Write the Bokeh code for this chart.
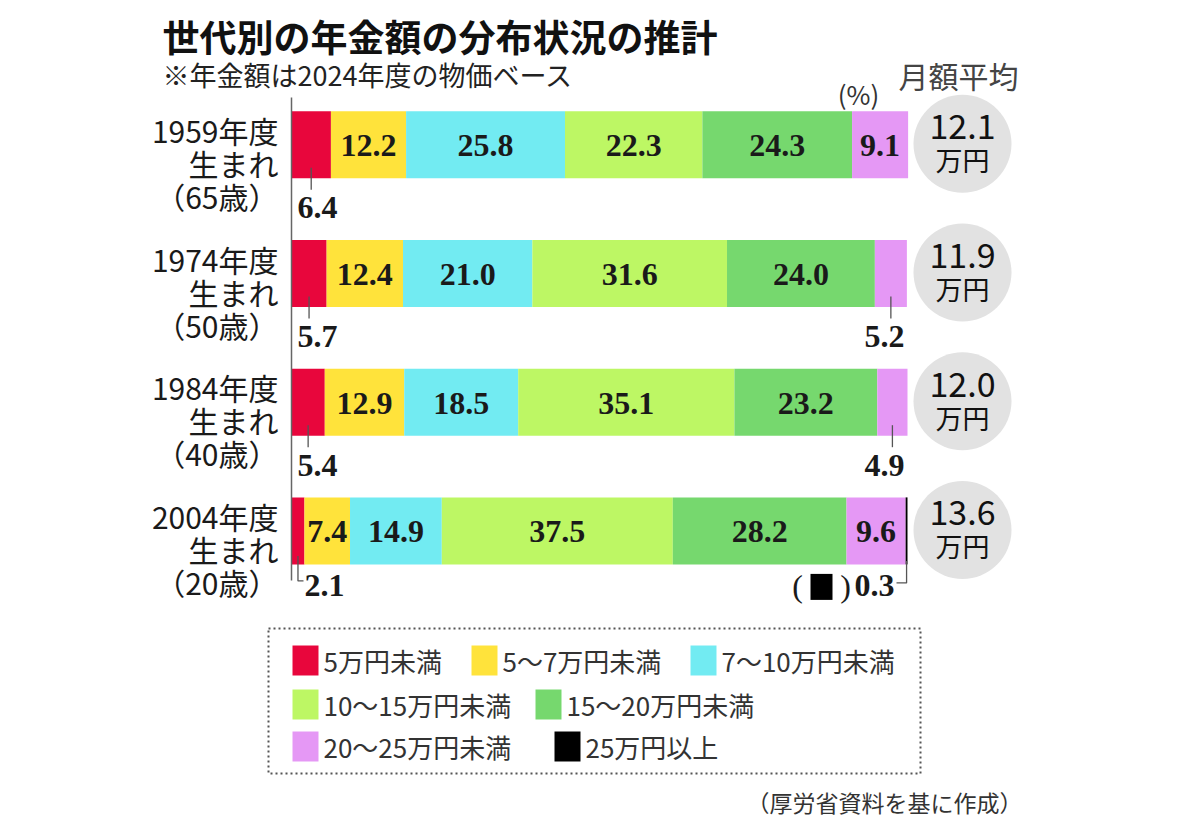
from bokeh.plotting import figure
from bokeh.models import Range1d
from bokeh.embed import file_html
from bokeh.resources import INLINE
from bokeh.core.properties import value

# ---------------- data ----------------
title = "世代別の年金額の分布状況の推計"
subtitle = "※年金額は2024年度の物価ベース"
avg_header = "月額平均"
unit_label = "(%)"
source = "（厚労省資料を基に作成）"

row_year = ["1959年度", "1974年度", "1984年度", "2004年度"]
row_born = ["生まれ", "生まれ", "生まれ", "生まれ"]
row_age = ["（65歳）", "（50歳）", "（40歳）", "（20歳）"]

categories = ["5万円未満", "5～7万円未満", "7～10万円未満", "10～15万円未満",
              "15～20万円未満", "20～25万円未満", "25万円以上"]
colors = ["#E8063C", "#FFE33B", "#72EBF2", "#BDF764", "#76D86E", "#E598F5", "#000000"]

under5 = [6.4, 5.7, 5.4, 2.1]
r5_7 = [12.2, 12.4, 12.9, 7.4]
r7_10 = [25.8, 21.0, 18.5, 14.9]
r10_15 = [22.3, 31.6, 35.1, 37.5]
r15_20 = [24.3, 24.0, 23.2, 28.2]
r20_25 = [9.1, 5.2, 4.9, 9.6]
over25 = [0.0, 0.0, 0.0, 0.3]
series = [under5, r5_7, r7_10, r10_15, r15_20, r20_25, over25]

avg_monthly = [12.1, 11.9, 12.0, 13.6]  # 万円

# ---------------- layout (pixels) ----------------
W, H = 1184, 824
PX0, PXS = 291.0, 6.16      # page x of 0 %, pixels per %
ROW0, ROWS = 144.3, 128.7   # page y of first row, pixels per row
OFF = 0                     # page offset of the canvas


def X(px):
    return (px - PX0) / PXS


def Y(py):
    return (py - ROW0) / ROWS


def DY(d):
    return d / ROWS


rows = list(range(len(row_year)))

p = figure(width=W, height=H, output_backend="svg", toolbar_location=None,
           x_range=Range1d(X(OFF), X(OFF + W)), y_range=Range1d(Y(OFF + H), Y(OFF)),
           x_axis_type=None, y_axis_type=None, min_border=0)
p.outline_line_color = None
p.xgrid.visible = False
p.ygrid.visible = False
p.background_fill_color = "white"
p.border_fill_color = "white"

SANS = value("Noto Sans CJK JP")
SERIF = value("Liberation Serif")
BH = DY(67)
NUMSIZE = "32px"
TXT = "#1a1a1a"

# stacked bars
lefts = [0.0] * len(rows)
seg = []  # (row, k, left, right, v)
for k, s in enumerate(series):
    rs = [l + v for l, v in zip(lefts, s)]
    yy = [r for r, v in zip(rows, s) if v > 0]
    ll = [l for l, v in zip(lefts, s) if v > 0]
    rr = [r for r, v in zip(rs, s) if v > 0]
    p.hbar(y=yy, left=ll, right=rr, height=BH, fill_color=colors[k], line_color=None)
    for r, l, rgt, v in zip(rows, lefts, rs, s):
        if v > 0:
            seg.append((r, k, l, rgt, v))
    lefts = rs

# axis line
p.segment(x0=[0], y0=[Y(97)], x1=[0], y1=[Y(580)], line_color="#666666", line_width=1.5)

# value labels inside bars
in_x, in_y, in_t = [], [], []
for (r, k, l, rgt, v) in seg:
    if v >= 7:
        in_x.append((l + rgt) / 2)
        in_y.append(r + DY(1))
        in_t.append(f"{v:.1f}")
p.text(x=in_x, y=in_y, text=in_t, text_font=SERIF, text_font_size=NUMSIZE,
       text_font_style="bold", text_align="center", text_baseline="middle", text_color=TXT)

# value labels outside bars with leader lines
LC = "#555555"
for (r, k, l, rgt, v) in seg:
    if v >= 7:
        continue
    c = (l + rgt) / 2
    compact = over25[r] > 0
    if not compact:
        p.segment(x0=[c], y0=[r + DY(23)], x1=[c], y1=[r + DY(45)], line_color=LC, line_width=1.3)
        if k == 0:
            p.text(x=[X(297)], y=[r + DY(63)], text=[f"{v:.1f}"], text_font=SERIF,
                   text_font_size=NUMSIZE, text_font_style="bold", text_align="left",
                   text_baseline="middle", text_color=TXT)
        else:
            p.text(x=[X(904)], y=[r + DY(63)], text=[f"{v:.1f}"], text_font=SERIF,
                   text_font_size=NUMSIZE, text_font_style="bold", text_align="right",
                   text_baseline="middle", text_color=TXT)
    else:
        if k == 0:
            p.multi_line(xs=[[c, c, X(303)]], ys=[[r + DY(25), r + DY(50), r + DY(50)]],
                         line_color=LC, line_width=1.3)
            p.text(x=[X(304)], y=[r + DY(55)], text=[f"{v:.1f}"], text_font=SERIF,
                   text_font_size=NUMSIZE, text_font_style="bold", text_align="left",
                   text_baseline="middle", text_color=TXT)
        else:
            p.multi_line(xs=[[c, c, X(896)]], ys=[[r + DY(30), r + DY(52), r + DY(52)]],
                         line_color=LC, line_width=1.3)
            p.text(x=[X(894)], y=[r + DY(55)], text=[f"{v:.1f}"], text_font=SERIF,
                   text_font_size=NUMSIZE, text_font_style="bold", text_align="right",
                   text_baseline="middle", text_color=TXT)
            p.text(x=[X(797), X(845)], y=[r + DY(55), r + DY(55)], text=["(", ")"],
                   text_font=SERIF, text_font_size=NUMSIZE, text_align="center",
                   text_baseline="middle", text_color=TXT)
            p.rect(x=[X(821)], y=[r + DY(56)], width=22 / PXS, height=DY(26),
                   fill_color=colors[k], line_color=None)

# row labels
LX = X(278)
for r in rows:
    p.text(x=[LX, LX, LX], y=[r - DY(15), r + DY(18), r + DY(51)],
           text=[row_year[r], row_born[r], row_age[r]], text_font=SANS, text_font_size="30px",
           text_align="right", text_baseline="middle", text_color=TXT)

# average circles
CX = X(962)
p.scatter(x=[CX] * len(rows), y=[r - DY(1) for r in rows], size=98, marker="circle",
          fill_color="#E2E2E2", line_color=None)
p.text(x=[CX] * len(rows), y=[r - DY(18) for r in rows], text=[f"{v:.1f}" for v in avg_monthly],
       text_font=SANS, text_font_size="34px", text_align="center", text_baseline="middle",
       text_color="#111111")
p.text(x=[CX] * len(rows), y=[r + DY(15) for r in rows], text=["万円"] * len(rows),
       text_font=SANS, text_font_size="27px", text_align="center", text_baseline="middle",
       text_color="#111111")

# titles
p.text(x=[X(162)], y=[Y(35)], text=[title], text_font=SANS, text_font_size="37px",
       text_font_style="bold", text_align="left", text_baseline="middle", text_color="#111111")
p.text(x=[X(162)], y=[Y(74)], text=[subtitle], text_font=SANS, text_font_size="27px",
       text_align="left", text_baseline="middle", text_color="#222222")
p.text(x=[X(958)], y=[Y(74)], text=[avg_header], text_font=SANS, text_font_size="30px",
       text_align="center", text_baseline="middle", text_color="#444444")
p.text(x=[X(858)], y=[Y(93)], text=[unit_label], text_font=SANS, text_font_size="26px",
       text_align="center", text_baseline="middle", text_color="#333333")

# legend box
p.quad(left=[X(268)], right=[X(920)], top=[Y(628)], bottom=[Y(773)], fill_color=None,
       line_color="#555555", line_width=2, line_dash="2 3")
leg_pos = [(292, 660), (471, 660), (690, 660),
           (292, 704), (535, 704),
           (292, 746), (554, 746)]
SQW, SQH = 26, 30
p.rect(x=[X(sx + SQW / 2) for sx, sy in leg_pos], y=[Y(sy) for sx, sy in leg_pos],
       width=SQW / PXS, height=DY(SQH), fill_color=colors, line_color=None)
p.text(x=[X(sx + SQW + 5) for sx, sy in leg_pos], y=[Y(sy) for sx, sy in leg_pos],
       text=categories, text_font=SANS, text_font_size="26px", text_align="left",
       text_baseline="middle", text_color="#333333")

# source
p.text(x=[X(1022)], y=[Y(801)], text=[source], text_font=SANS, text_font_size="23px",
       text_align="right", text_baseline="middle", text_color="#333333")

open("out.html", "w").write(file_html(p, INLINE))
